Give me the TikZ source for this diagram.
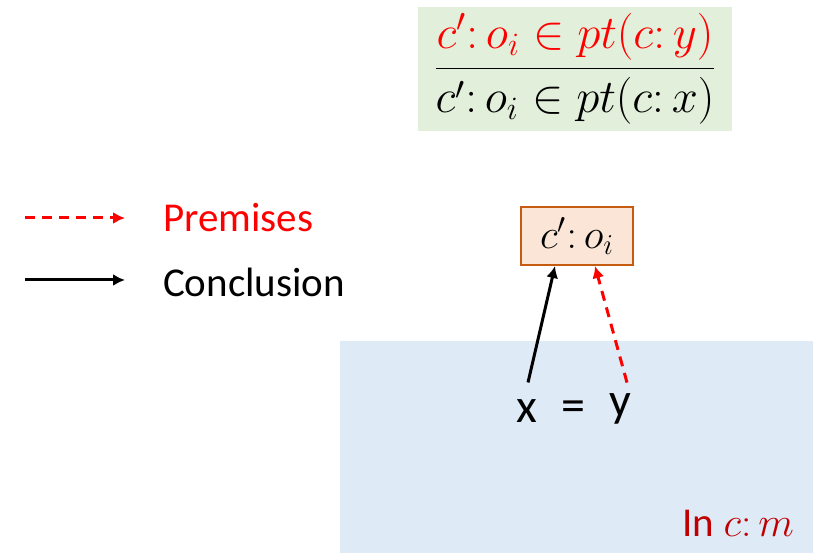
\documentclass[tikz,border=0pt]{standalone}
\usepackage{fontspec}
\setmainfont{Carlito}
\usepackage{xcolor}
\usetikzlibrary{arrows.meta,positioning}
\definecolor{RuleGreen}{HTML}{E2EFDA}
\definecolor{ScopeBlue}{HTML}{DEEAF6}
\definecolor{ObjFill}{HTML}{FBE5D6}
\definecolor{ObjDraw}{HTML}{C55A11}
\definecolor{DarkRed}{HTML}{C00000}

\begin{document}
\begin{tikzpicture} [x=0.5pt, y=-0.5pt,
       >={Latex[length=6pt,width=6pt]}, text=black,
	   every node/.style={font=\fontsize{20.5}{24}\selectfont},
	   premise/.style = {->, red, line width=1.5pt, dash pattern=on 5pt off 3.5pt},
	   conclude/.style = {->, black, line width=1.5pt},
	   objbox/.style = {draw=ObjDraw, fill=ObjFill, line width=1pt,
	                    minimum width=56pt, minimum height=29pt}]

	\useasboundingbox (0,0) rectangle (823,560);

	%% Scope of the method, and the rule on top
	\fill[ScopeBlue] (340,341) rectangle (813,553);
	\node [fill=RuleGreen, minimum width=157pt, minimum height=61pt] (rule) at (575,69)
		{\scalebox{1.13}{$\displaystyle\frac{\color{red}c'\colon o_i\in pt(c\colon y)}{c'\colon o_i\in pt(c\colon x)}$}};
	\node [DarkRed, anchor=east] (scope) at (801,523) {In $c\colon m$};

	%% Legend
	\node [red, anchor=west] (premises) at (156,218) {Premises};
	\node [anchor=west] (conclusion) at (156,282) {Conclusion};
	\coordinate (pstart) at (25,218);
	\coordinate (cstart) at (25,280);
	\draw[premise] (pstart) -- ([xshift=-15.5pt]premises.west |- pstart);
	\draw[conclude] (cstart) -- ([xshift=-15.5pt]conclusion.west |- cstart);

	%% Object and the equation
	\node [objbox] (obj) at (577,236) {$c'\colon o_i$};
	\node [font=\fontsize{24}{28}\selectfont] (eqx) at (527,411) {x};
	\node [font=\fontsize{24}{28}\selectfont] (eqsign) at (573,411) {=};
	\node [font=\fontsize{24}{28}\selectfont] (eqy) at (620,409) {y};

	\draw[conclude] ([xshift=0.5pt,yshift=5pt]eqx.north) -- ([xshift=-11pt]obj.south);
	\draw[premise] ([xshift=3.5pt,yshift=2pt]eqy.north) -- ([xshift=9pt]obj.south);
\end{tikzpicture}
\end{document}
